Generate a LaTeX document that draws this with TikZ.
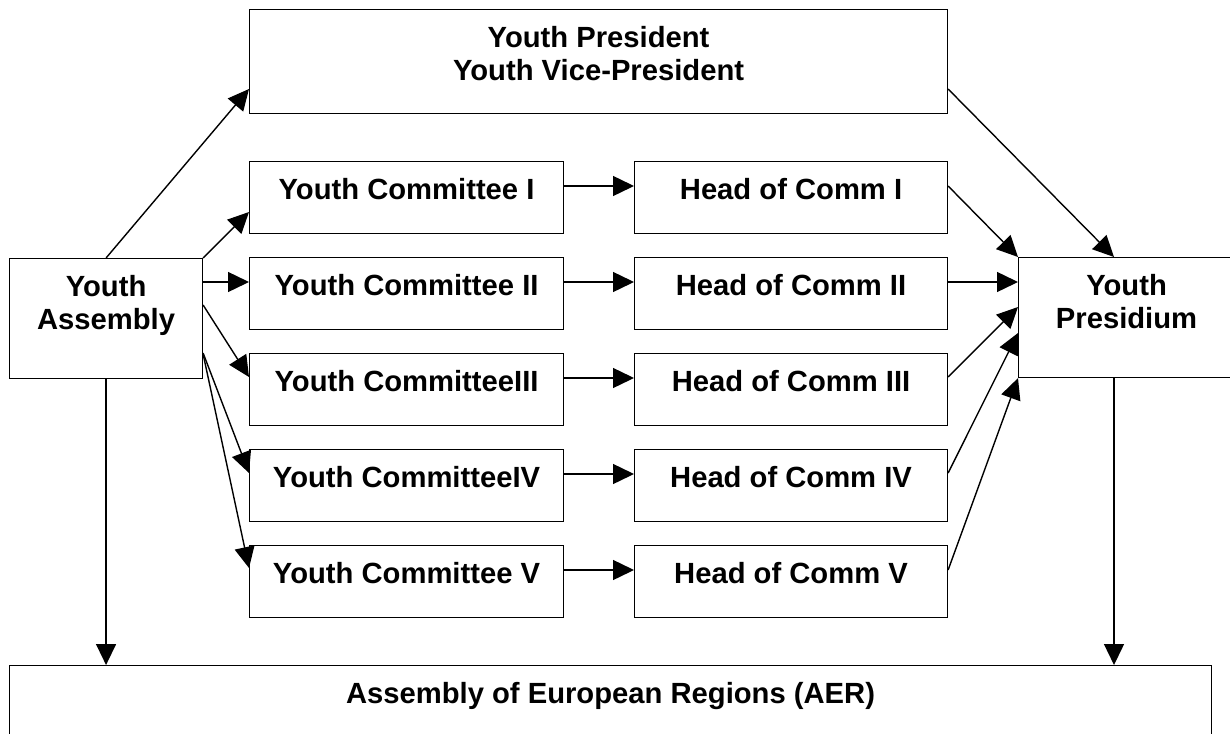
\documentclass[tikz,border=0pt]{standalone}
\usepackage{fontspec}
\setmainfont{Liberation Sans}
\usetikzlibrary{arrows.meta}
\tikzset{
  box/.style={draw, line width=1.1pt, inner sep=0pt, text height=38pt, anchor=north west,
    font=\fontsize{29.2}{33}\selectfont\bfseries},
  arr/.style={line width=1.4pt, -{Triangle[length=21pt,width=20pt]}},
}
\newcommand{\twolines}[2]{\begin{tabular}[t]{@{}c@{}}#1\\#2\end{tabular}}
\begin{document}
\begin{tikzpicture}[x=1pt,y=-1pt]
\useasboundingbox (0,0) rectangle (1230,733);
\clip (0,0) rectangle (1230,733);
% boxes
\node[box, minimum width=698pt, text depth=66pt] (pres) at (249,9) {\twolines{Youth President}{Youth Vice-President}};
\node[box, minimum width=193pt, text depth=82pt] (asm) at (9,258) {\twolines{Youth}{Assembly}};
\node[box, minimum width=216pt, text depth=82pt] (prs) at (1018,257) {\twolines{Youth}{Presidium}};
\node[box, minimum width=1202pt, text depth=62pt] (aer) at (9,665) {Assembly of European Regions (AER)};
\node[box, minimum width=314pt, text depth=34pt] (c1) at (249,161) {Youth Committee I};
\node[box, minimum width=314pt, text depth=34pt] (c2) at (249,257) {Youth Committee II};
\node[box, minimum width=314pt, text depth=34pt] (c3) at (249,353) {Youth CommitteeIII};
\node[box, minimum width=314pt, text depth=34pt] (c4) at (249,449) {Youth CommitteeIV};
\node[box, minimum width=314pt, text depth=34pt] (c5) at (249,545) {Youth Committee V};
\node[box, minimum width=313pt, text depth=34pt] (h1) at (634,161) {Head of Comm I};
\node[box, minimum width=313pt, text depth=34pt] (h2) at (634,257) {Head of Comm II};
\node[box, minimum width=313pt, text depth=34pt] (h3) at (634,353) {Head of Comm III};
\node[box, minimum width=313pt, text depth=34pt] (h4) at (634,449) {Head of Comm IV};
\node[box, minimum width=313pt, text depth=34pt] (h5) at (634,545) {Head of Comm V};
% connectors from Youth Assembly
\draw[arr] (asm.north) -- ([yshift=-80pt]pres.north west);
\draw[arr] (asm.north east) -- ([yshift=-51pt]c1.north west);
\draw[arr] ([yshift=-24pt]asm.north east) -- ([yshift=-25pt]c2.north west);
\draw[arr] ([yshift=-47pt]asm.north east) -- ([yshift=-24pt]c3.north west);
\draw[arr] ([yshift=-95pt]asm.north east) -- ([yshift=-24pt]c4.north west);
\draw[arr] ([yshift=-96pt]asm.north east) -- ([yshift=-23pt]c5.north west);
\draw[arr] (asm.south) -- (asm.south |- aer.north);
% committees to heads
\foreach \i in {1,...,5}{
  \draw[arr] ([yshift=-25pt]c\i.north east) -- ([yshift=-25pt]h\i.north west);
}
% heads to presidium
\draw[arr] ([yshift=-25pt]h1.north east) -- (prs.north west);
\draw[arr] ([yshift=-25pt]h2.north east) -- ([yshift=-25pt]prs.north west);
\draw[arr] ([yshift=-24pt]h3.north east) -- ([yshift=-50pt]prs.north west);
\draw[arr] ([yshift=-24pt]h4.north east) -- ([yshift=-76pt]prs.north west);
\draw[arr] ([yshift=-25pt]h5.north east) -- (prs.south west);
% president to presidium
\draw[arr] ([yshift=-80pt]pres.north east) -- ([xshift=96pt]prs.north west);
% presidium to AER
\coordinate (pd) at ([xshift=96pt]prs.south west);
\draw[arr] (pd) -- (pd |- aer.north);
\end{tikzpicture}
\end{document}
